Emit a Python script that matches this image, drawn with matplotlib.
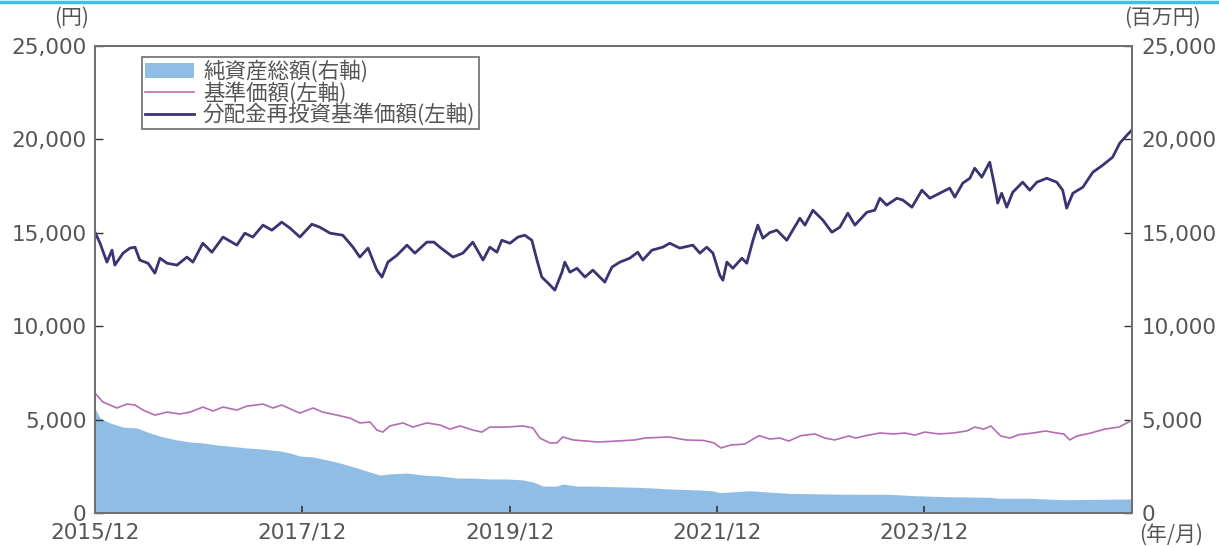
import pandas as pd
import matplotlib
matplotlib.use("Agg")
import matplotlib.pyplot as plt
import matplotlib.dates as mdates
from matplotlib.lines import Line2D
from matplotlib.patches import Patch
from matplotlib.ticker import FuncFormatter, MultipleLocator

plt.rcParams['font.family'] = ['Noto Sans CJK JP', 'DejaVu Sans']

# 分配金再投資基準価額（円）
nav_re_dates = [
    "2015-12-01", "2015-12-19", "2016-01-12", "2016-01-30", "2016-02-09", "2016-03-09",
    "2016-04-02", "2016-04-20", "2016-05-07", "2016-06-05", "2016-06-29", "2016-07-17",
    "2016-08-11", "2016-09-15", "2016-10-20", "2016-11-10", "2016-12-15", "2017-01-16",
    "2017-02-24", "2017-04-14", "2017-05-12", "2017-06-09", "2017-07-15", "2017-08-15",
    "2017-09-19", "2017-10-18", "2017-11-22", "2018-01-03", "2018-01-31", "2018-03-08",
    "2018-04-22", "2018-05-28", "2018-06-21", "2018-07-20", "2018-08-20", "2018-09-07",
    "2018-09-28", "2018-10-30", "2018-12-04", "2019-01-01", "2019-02-12", "2019-03-09",
    "2019-03-30", "2019-05-15", "2019-06-19", "2019-07-24", "2019-08-29", "2019-09-22",
    "2019-10-17", "2019-11-03", "2019-12-02", "2019-12-30", "2020-01-23", "2020-02-17",
    "2020-03-06", "2020-03-23", "2020-04-14", "2020-05-08", "2020-06-02", "2020-06-12",
    "2020-06-30", "2020-07-25", "2020-08-22", "2020-09-19", "2020-10-31", "2020-11-25",
    "2020-12-23", "2021-01-27", "2021-02-24", "2021-03-14", "2021-04-15", "2021-05-23",
    "2021-06-17", "2021-07-22", "2021-09-06", "2021-10-01", "2021-10-25", "2021-11-16",
    "2021-12-10", "2021-12-21", "2022-01-04", "2022-01-25", "2022-02-26", "2022-03-15",
    "2022-04-06", "2022-04-23", "2022-05-11", "2022-06-04", "2022-06-29", "2022-08-03",
    "2022-09-18", "2022-10-06", "2022-11-03", "2022-12-08", "2023-01-09", "2023-02-06",
    "2023-03-06", "2023-03-31", "2023-05-12", "2023-06-09", "2023-06-27", "2023-07-21",
    "2023-08-26", "2023-09-16", "2023-10-18", "2023-11-22", "2023-12-20", "2024-01-24",
    "2024-02-28", "2024-03-17", "2024-04-14", "2024-05-09", "2024-05-26", "2024-06-20",
    "2024-07-18", "2024-08-05", "2024-08-15", "2024-08-29", "2024-09-16", "2024-10-07",
    "2024-11-11", "2024-12-06", "2024-12-31", "2025-02-04", "2025-03-11", "2025-04-01",
    "2025-04-15", "2025-05-07", "2025-06-11", "2025-07-16", "2025-08-20", "2025-09-24",
    "2025-10-19", "2025-11-13", "2025-11-30",
]
nav_re_values = [
    15030, 14440, 13430, 14070, 13270, 13910,
    14180, 14230, 13540, 13370, 12840, 13640,
    13370, 13270, 13700, 13430, 14440, 13960,
    14770, 14340, 14980, 14770, 15410, 15140,
    15570, 15250, 14770, 15460, 15300, 14980,
    14870, 14230, 13700, 14180, 13000, 12630,
    13430, 13800, 14340, 13910, 14500, 14500,
    14230, 13700, 13910, 14500, 13540, 14230,
    13960, 14600, 14440, 14770, 14870, 14600,
    13540, 12630, 12310, 11930, 12890, 13430,
    12890, 13100, 12630, 13000, 12360, 13160,
    13430, 13640, 13960, 13540, 14070, 14230,
    14440, 14180, 14340, 13910, 14230, 13910,
    12730, 12460, 13430, 13100, 13640, 13370,
    14600, 15410, 14710, 15010, 15140, 14600,
    15780, 15410, 16210, 15680, 15030, 15300,
    16050, 15410, 16100, 16210, 16850, 16480,
    16850, 16750, 16370, 17280, 16850, 17120,
    17390, 16910, 17660, 17920, 18460, 17980,
    18780, 17440, 16590, 17120, 16370, 17170,
    17710, 17280, 17710, 17920, 17710, 17280,
    16320, 17120, 17440, 18240, 18620, 19050,
    19800, 20220, 20490,
]

# 基準価額（円）
nav_dates = [
    "2015-12-01", "2015-12-29", "2016-01-23", "2016-02-16", "2016-03-23", "2016-04-20",
    "2016-05-18", "2016-06-29", "2016-08-11", "2016-09-25", "2016-10-31", "2016-12-15",
    "2017-01-20", "2017-02-24", "2017-04-14", "2017-05-19", "2017-07-15", "2017-08-19",
    "2017-09-19", "2017-10-28", "2017-11-22", "2018-01-07", "2018-02-11", "2018-04-01",
    "2018-05-17", "2018-06-21", "2018-07-27", "2018-08-20", "2018-09-10", "2018-10-05",
    "2018-11-20", "2018-12-25", "2019-02-12", "2019-03-30", "2019-05-04", "2019-06-09",
    "2019-07-24", "2019-08-25", "2019-09-22", "2019-11-21", "2020-01-16", "2020-02-21",
    "2020-03-16", "2020-04-21", "2020-05-15", "2020-06-05", "2020-07-11", "2020-08-29",
    "2020-10-03", "2020-11-18", "2021-02-14", "2021-03-21", "2021-06-14", "2021-08-12",
    "2021-10-15", "2021-11-19", "2021-12-14", "2022-01-18", "2022-03-08", "2022-04-27",
    "2022-06-04", "2022-07-10", "2022-08-10", "2022-09-22", "2022-11-10", "2022-12-15",
    "2023-01-19", "2023-03-10", "2023-04-03", "2023-05-08", "2023-06-27", "2023-08-15",
    "2023-09-23", "2023-10-28", "2023-12-02", "2024-01-21", "2024-03-10", "2024-04-28",
    "2024-05-26", "2024-06-27", "2024-07-22", "2024-08-08", "2024-08-26", "2024-09-27",
    "2024-10-28", "2024-12-17", "2025-01-31", "2025-03-11", "2025-04-05", "2025-04-26",
    "2025-05-21", "2025-07-09", "2025-08-27", "2025-10-16", "2025-11-30",
]
nav_values = [
    6420, 5940, 5780, 5620, 5830, 5780,
    5510, 5240, 5400, 5300, 5400, 5670,
    5460, 5670, 5510, 5720, 5830, 5620,
    5780, 5510, 5350, 5620, 5400, 5240,
    5080, 4820, 4870, 4440, 4330, 4660,
    4820, 4600, 4820, 4710, 4490, 4660,
    4440, 4330, 4600, 4600, 4660, 4550,
    4010, 3750, 3750, 4070, 3910, 3850,
    3800, 3830, 3910, 4010, 4070, 3910,
    3880, 3750, 3480, 3640, 3690, 4140,
    3960, 4010, 3850, 4140, 4230, 4010,
    3910, 4120, 4010, 4140, 4280, 4230,
    4280, 4170, 4330, 4230, 4280, 4390,
    4600, 4490, 4660, 4390, 4120, 4010,
    4190, 4280, 4390, 4280, 4230, 3910,
    4120, 4280, 4490, 4600, 4950,
]

# 純資産総額（百万円）
assets_dates = [
    "2015-12-01", "2015-12-19", "2016-01-23", "2016-03-09", "2016-04-27", "2016-06-12",
    "2016-07-27", "2016-09-15", "2016-10-31", "2016-12-15", "2017-02-03", "2017-03-20",
    "2017-05-19", "2017-07-15", "2017-09-13", "2017-10-18", "2017-11-22", "2018-01-07",
    "2018-02-25", "2018-04-12", "2018-06-11", "2018-07-27", "2018-08-31", "2018-10-05",
    "2018-12-04", "2019-01-29", "2019-03-30", "2019-05-29", "2019-07-24", "2019-09-22",
    "2019-11-21", "2020-01-16", "2020-02-21", "2020-03-27", "2020-05-15", "2020-06-05",
    "2020-07-25", "2020-09-08", "2021-03-04", "2021-06-28", "2021-10-01", "2021-11-16",
    "2021-12-10", "2022-03-26", "2022-05-11", "2022-08-14", "2022-12-08", "2023-04-07",
    "2023-08-01", "2023-10-21", "2024-02-18", "2024-07-18", "2024-08-12", "2024-12-06",
    "2025-04-01", "2025-07-30", "2025-11-30",
]
assets_values = [
    5600, 5080, 4820, 4600, 4550, 4280,
    4070, 3910, 3800, 3750, 3640, 3580,
    3480, 3420, 3320, 3210, 3050, 3000,
    2840, 2680, 2410, 2190, 2030, 2090,
    2140, 2030, 1980, 1870, 1870, 1820,
    1820, 1770, 1660, 1440, 1440, 1550,
    1440, 1440, 1370, 1280, 1230, 1180,
    1090, 1190, 1140, 1050, 1020, 1000,
    1000, 930, 870, 840, 790, 790,
    710, 730, 750,
]

tick_dates = ["2015-12-01", "2017-12-01", "2019-12-01", "2021-12-01", "2023-12-01"]

text_color = '#555555'
num_font = 'DejaVu Sans'

fig = plt.figure(figsize=(12.19, 5.47), dpi=100)
ax = fig.add_axes([0.0779, 0.0622, 0.8507, 0.8537])
ax2 = ax.twinx()

# 純資産総額は右軸、線は左軸。線を面の上に描く
ax.set_zorder(ax2.get_zorder() + 1)
ax.patch.set_visible(False)

ax2.fill_between(pd.to_datetime(assets_dates), assets_values, 0,
                 color='#8fbde6', linewidth=0)
ax.plot(pd.to_datetime(nav_dates), nav_values, color='#b46cb4', linewidth=1.2)
ax.plot(pd.to_datetime(nav_re_dates), nav_re_values, color='#3a3473', linewidth=2.0)

for a in (ax, ax2):
    a.set_ylim(0, 25000)
    a.yaxis.set_major_locator(MultipleLocator(5000))
    a.yaxis.set_major_formatter(FuncFormatter(lambda v, p: f"{int(v):,}"))
    a.set_xlim(pd.Timestamp("2015-12-01"), pd.Timestamp("2025-12-01"))
    for s in a.spines.values():
        s.set_color('#707070')
        s.set_linewidth(1.4)

ax.set_xticks(pd.to_datetime(tick_dates))
ax.xaxis.set_major_formatter(mdates.DateFormatter('%Y/%m'))
ax.tick_params(axis='x', direction='in', length=5, width=1.2, color='#333333',
               pad=7, labelsize=15.5, labelcolor=text_color)
ax.tick_params(axis='y', direction='in', length=6, width=1.0, color='#333333',
               pad=6, labelsize=15.5, labelcolor=text_color)
ax2.tick_params(axis='y', direction='in', length=6, width=1.0, color='#333333',
                pad=7, labelsize=15.5, labelcolor=text_color)
for lab in ax.get_xticklabels() + ax.get_yticklabels() + ax2.get_yticklabels():
    lab.set_family(num_font)

# 単位
fig.text(0.059, 0.967, '(円)', ha='center', va='center', fontsize=15, color=text_color)
fig.text(0.954, 0.967, '(百万円)', ha='center', va='center', fontsize=15, color=text_color)
fig.text(0.961, 0.022, '(年/月)', ha='center', va='center', fontsize=15, color=text_color)

handles = [
    Patch(facecolor='#8fbde6', edgecolor='none'),
    Line2D([], [], color='#b46cb4', linewidth=1.2),
    Line2D([], [], color='#3a3473', linewidth=2.0),
]
labels = ['純資産総額(右軸)', '基準価額(左軸)', '分配金再投資基準価額(左軸)']
leg = ax.legend(handles, labels, loc='upper left', bbox_to_anchor=(0.045, 0.976),
                fontsize=15.5, frameon=True, fancybox=False, borderpad=0.15,
                labelspacing=-0.05, handlelength=2.3, handletextpad=0.4,
                borderaxespad=0)
leg.get_frame().set_edgecolor('#555555')
leg.get_frame().set_linewidth(1.3)
for t in leg.get_texts():
    t.set_color(text_color)

# 上端の水色の線
fig.add_artist(Line2D([0, 1], [0.997, 0.997], transform=fig.transFigure,
                      color='#3cc0ea', linewidth=2.5))

fig.savefig('out.png', dpi=100)
